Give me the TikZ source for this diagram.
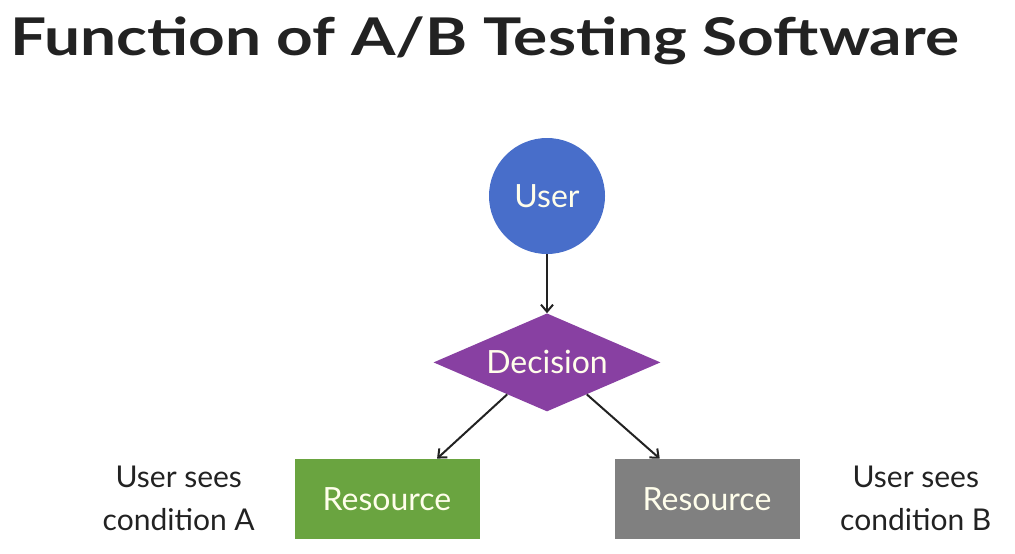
\documentclass[tikz,border=0pt]{standalone}
\usepackage{fontspec}
\setmainfont{Lato}
\newfontfamily\titlefont[FakeStretch=1.23]{Lato}
\usetikzlibrary{arrows.meta, positioning, shapes.geometric, calc}
\definecolor{userblue}{RGB}{72,110,202}
\definecolor{decpurple}{RGB}{136,64,162}
\definecolor{resgreen}{RGB}{106,164,64}
\definecolor{resgray}{RGB}{128,128,128}
\definecolor{inktext}{RGB}{34,34,34}
\begin{document}
\begin{tikzpicture}[
        x=1pt, y=-1pt,
        node distance=59pt and 37pt,
        >={Straight Barb[length=7pt, width=12pt]},
        shapetext/.style={font=\fontsize{32}{38}\selectfont, text=white!92!yellow, inner sep=0pt},
        userbox/.style={circle, fill=userblue, minimum size=116pt, shapetext},
        decbox/.style={diamond, fill=decpurple, aspect=2.3, minimum width=227pt,
                minimum height=98pt, shapetext},
        resbox/.style={rectangle, minimum width=185pt, minimum height=80pt, shapetext},
        sidelab/.style={align=center, font=\fontsize{30}{43}\selectfont, text=inktext},
        arrow/.style={->, line width=2pt, inktext},
        titlelab/.style={font=\titlefont\fontsize{52}{60}\selectfont\bfseries, text=inktext, inner sep=0pt}, ]

        \useasboundingbox (0,0) rectangle (1015,554);

        % === TITLE ===
        \node[titlelab, anchor=base west] (title) at (10,55) {Function of A/B Testing Software};

        % === FLOW ===
        \node[userbox] (user) at (547,196) {User};
        \node[decbox, below=59pt of user] (dec) {Decision};
        \node[resbox, fill=resgreen, below=47pt of dec.south, xshift=-160pt] (resA) {Resource};
        \node[resbox, fill=resgray, below=47pt of dec.south, xshift=160pt] (resB) {Resource};

        % Side labels
        \node[sidelab, left=36pt of resA] (condA) {User sees\\condition A};
        \node[sidelab, right=37pt of resB] (condB) {User sees\\condition B};

        % Connections
        \draw[arrow] (user) -- (dec);
        \draw[arrow] ($(dec.south)!0.35!(dec.west)$) -- ($(resA.north)!0.54!(resA.north east)$);
        \draw[arrow] ($(dec.south)!0.35!(dec.east)$) -- ($(resB.north)!0.51!(resB.north west)$);
    \end{tikzpicture}
\end{document}
